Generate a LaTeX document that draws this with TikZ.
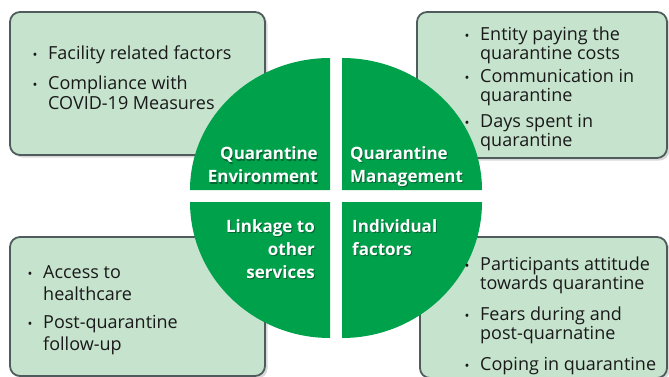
\documentclass[tikz,border=0pt]{standalone}
\usepackage{fontspec}
\setmainfont{Open Sans}
\usetikzlibrary{shadows, calc}
\definecolor{qgreen}{RGB}{0,161,75}
\definecolor{boxfill}{RGB}{198,227,205}
\definecolor{boxline}{RGB}{78,92,92}
% 条目: 圆点 + 文字(基线对齐第一行)
\newcommand{\qitem}[4]{%
  \node[dotmark] (#1-dot) at (#2,#3) {\textbullet};
  \node[itemtext] (#1) at (#2+13,#3) {\begin{tabular}[t]{@{}l@{}}#4\end{tabular}};
}
% 象限标题(带阴影的白字)
\newcommand{\qlabel}[5]{%
  \node[qtitle, anchor=#3, text=black, opacity=0.35] (#1-s) at ($(#2)+(1,1.2)$)
    {\begin{tabular}[t]{@{}#4@{}}#5\end{tabular}};
  \node[qtitle, anchor=#3] (#1) at (#2) {\begin{tabular}[t]{@{}#4@{}}#5\end{tabular}};
}

\begin{document}
\begin{tikzpicture}[
  x=1pt, y=-1pt,
  qbox/.style={draw=boxline, line width=1.8pt, fill=boxfill, rounded corners=10pt,
    drop shadow={shadow xshift=2.5pt, shadow yshift=-2.5pt, opacity=0.3}},
  dotmark/.style={anchor=base, inner sep=0pt, font=\fontsize{13}{16}\selectfont, text=black!90},
  itemtext/.style={anchor=base west, inner sep=0pt, text=black!90},
  qtitle/.style={inner sep=0pt, text=white, font=\fontsize{17}{23}\selectfont\bfseries},
  ]
  \useasboundingbox (0,0) rectangle (669,377);

  % 四个文字框
  \draw[qbox] (10,12) rectangle (265,155);
  \draw[qbox] (417,12) rectangle (667,158);
  \draw[qbox] (10,237) rectangle (265,376);
  \draw[qbox] (420,237) rectangle (667,378);

  % 中间的圆: 四个象限
  \foreach \cx/\cy/\a/\ry in {330/190/180/132, 342/190/270/132, 342/202/0/136, 330/202/90/136}
    \fill[qgreen] (\cx,\cy) -- ++({140*cos(\a)},{\ry*sin(\a)})
      arc[start angle=\a, end angle=\a+90, x radius=140, y radius=\ry] -- cycle;

  % 象限标题
  \coordinate (envpos) at (318,160);
  \coordinate (mgtpos) at (350,159);
  \coordinate (linkpos) at (315,232);
  \coordinate (indpos) at (352,232);
  \qlabel{env}{envpos}{base east}{r}{Quarantine\\Environment}
  \qlabel{mgt}{mgtpos}{base west}{l}{Quarantine\\Management}
  \qlabel{link}{linkpos}{base east}{r}{Linkage to\\other\\services}
  \qlabel{ind}{indpos}{base west}{l}{Individual\\factors}

  % 左上
  \begin{scope}[every node/.append style={font=\fontsize{18}{20}\selectfont}]
    \qitem{facility}{35}{60}{Facility related factors}
    \qitem{comply}{35}{90}{Compliance with\\COVID-19 Measures}
  \end{scope}
  % 右上
  \begin{scope}[every node/.append style={font=\fontsize{18}{16.5}\selectfont}]
    \qitem{entity}{467}{41}{Entity paying the\\quarantine costs}
    \qitem{comm}{467}{83}{Communication in\\quarantine}
    \qitem{days}{467}{128}{Days spent in\\quarantine}
  \end{scope}
  % 左下
  \begin{scope}[every node/.append style={font=\fontsize{18}{22}\selectfont}]
    \qitem{access}{30}{278}{Access to\\healthcare}
    \qitem{follow}{30}{328}{Post-quarantine\\follow-up}
  \end{scope}
  % 右下
  \begin{scope}[every node/.append style={font=\fontsize{18}{19}\selectfont}]
    \qitem{attitude}{467}{270}{Participants attitude\\towards quarantine}
    \qitem{fears}{467}{320}{Fears during and\\post-quarnatine}
    \qitem{coping}{467}{370}{Coping in quarantine}
  \end{scope}
\end{tikzpicture}
\end{document}
